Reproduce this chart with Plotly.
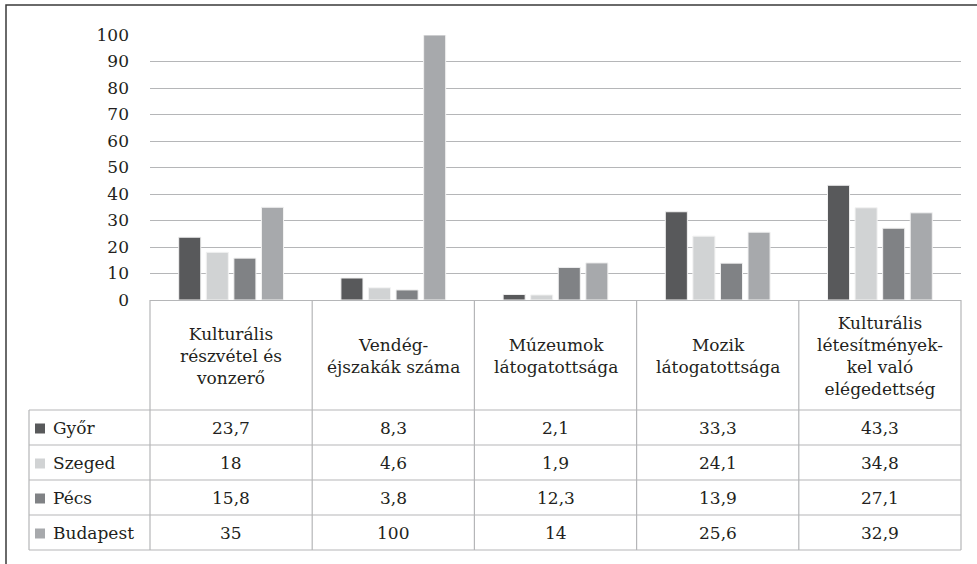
import plotly.graph_objects as go

categories = [
    "Kulturális<br>részvétel és<br>vonzerő",
    "Vendég-<br>éjszakák száma",
    "Múzeumok<br>látogatottsága",
    "Mozik<br>látogatottsága",
    "Kulturális<br>létesítmények-<br>kel való<br>elégedettség",
]
series_names = ["Győr", "Szeged", "Pécs", "Budapest"]
gyor = [23.7, 8.3, 2.1, 33.3, 43.3]
szeged = [18, 4.6, 1.9, 24.1, 34.8]
pecs = [15.8, 3.8, 12.3, 13.9, 27.1]
budapest = [35, 100, 14, 25.6, 32.9]
series_values = [gyor, szeged, pecs, budapest]
colors = ["#58595b", "#d1d3d4", "#808285", "#a7a9ac"]
y_ticks = [0, 10, 20, 30, 40, 50, 60, 70, 80, 90, 100]

W, H = 977, 564
ML, MR, MT, MB = 150, 16, 35, 14
PW = W - ML - MR
PH = H - MT - MB
TABLE_BOTTOM = 550
AXIS_ZERO = 300


def px_x(p):
    return (p - ML) / PW


def px_y(p):
    return (TABLE_BOTTOM - p) / PH


FONT = "DejaVu Serif"
TXT = "#231f20"
LINE = "#b5b6b8"
FS = 17

fig = go.Figure()
for name, vals, col in zip(series_names, series_values, colors):
    fig.add_trace(go.Bar(
        x=list(range(len(categories))), y=vals, name=name,
        marker=dict(color=col, line=dict(color="#f2f2f2", width=1)),
        showlegend=False,
    ))

shapes = []
shapes.append(dict(type="rect", xref="paper", yref="paper",
                   x0=px_x(6), x1=px_x(995), y0=px_y(5), y1=px_y(590),
                   line=dict(color="#3a3a3a", width=1.5), layer="below"))

row_edges = [410, 445, 480, 515, 550]
left_col = 29
for r in row_edges:
    shapes.append(dict(type="line", xref="paper", yref="paper",
                       x0=px_x(left_col), x1=1, y0=px_y(r), y1=px_y(r),
                       line=dict(color=LINE, width=1.2)))
n = len(categories)
for i in range(n + 1):
    shapes.append(dict(type="line", xref="paper", yref="paper",
                       x0=i / n, x1=i / n, y0=px_y(AXIS_ZERO), y1=px_y(TABLE_BOTTOM),
                       line=dict(color=LINE, width=1.2)))
shapes.append(dict(type="line", xref="paper", yref="paper",
                   x0=px_x(left_col), x1=px_x(left_col), y0=px_y(410), y1=px_y(TABLE_BOTTOM),
                   line=dict(color=LINE, width=1.2)))

annotations = []
for i, c in enumerate(categories):
    annotations.append(dict(x=i, xref="x", y=px_y(356), yref="paper",
                            text=c, showarrow=False, xanchor="center", yanchor="middle",
                            align="center", font=dict(family=FONT, size=FS, color=TXT)))
for k, (name, vals, col) in enumerate(zip(series_names, series_values, colors)):
    top, bot = row_edges[k], row_edges[k + 1]
    cy = (top + bot) / 2
    shapes.append(dict(type="rect", xref="paper", yref="paper",
                       x0=px_x(35), x1=px_x(45), y0=px_y(cy + 6), y1=px_y(cy - 4),
                       fillcolor=col, line=dict(width=0)))
    annotations.append(dict(x=px_x(51), xref="paper", y=px_y(cy), yref="paper",
                            text=name, showarrow=False, xanchor="left", yanchor="middle",
                            font=dict(family=FONT, size=FS, color=TXT)))
    for i, v in enumerate(vals):
        annotations.append(dict(x=i, xref="x", y=px_y(cy), yref="paper",
                                text=f"{v:g}".replace(".", ","), showarrow=False,
                                xanchor="center", yanchor="middle",
                                font=dict(family=FONT, size=FS, color=TXT)))

fig.update_layout(
    width=W, height=H,
    margin=dict(l=ML, r=MR, t=MT, b=MB, autoexpand=False),
    paper_bgcolor="white", plot_bgcolor="white",
    barmode="group", bargap=0.32, bargroupgap=0.2,
    font=dict(family=FONT, size=FS, color=TXT),
    xaxis=dict(range=[-0.5, n - 0.5], showticklabels=False, showgrid=False,
               zeroline=False, showline=False, fixedrange=True, automargin=False),
    yaxis=dict(range=[0, 100], tickvals=y_ticks, domain=[px_y(AXIS_ZERO), 1],
               showgrid=True, gridcolor=LINE, gridwidth=1.2, zeroline=True,
               zerolinecolor=LINE, zerolinewidth=1.2, showline=False,
               ticks="", ticklabelstandoff=20, automargin=False,
               tickfont=dict(family=FONT, size=FS, color=TXT)),
    shapes=shapes, annotations=annotations,
)

fig.write_html("out.html", config={"displayModeBar": False},
               post_script="document.body.style.margin='0';")
